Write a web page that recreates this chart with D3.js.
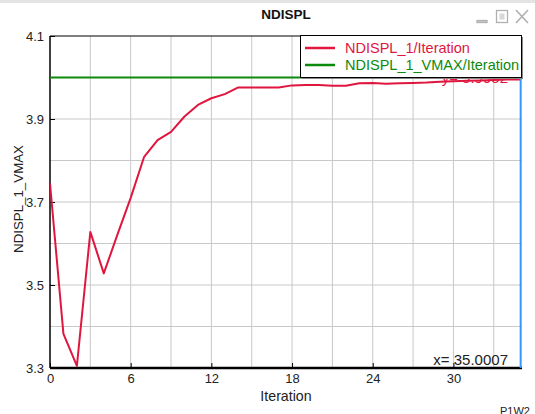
<!DOCTYPE html>
<html><head><meta charset="utf-8">
<script src="https://cdn.jsdelivr.net/npm/d3@7"></script>
<style>body{margin:0;background:#fff;}svg{display:block;font-family:"Liberation Sans",Arial,sans-serif;}</style>
</head><body>
<svg id="c" width="535" height="414"></svg>
<script>
const iterations = d3.range(0, 36);
const ndispl = [3.745, 3.382, 3.305, 3.628, 3.528, 3.62, 3.71, 3.809, 3.849, 3.869, 3.906, 3.934, 3.950, 3.960, 3.976, 3.976, 3.976, 3.976, 3.981, 3.982, 3.982, 3.980, 3.980, 3.986, 3.987, 3.985, 3.986, 3.987, 3.988, 3.990, 3.991, 3.992, 3.993, 3.994, 3.995, 3.995];
const vmax = 4.0;
const xTicks = [0, 6, 12, 18, 24, 30];
const yTicks = [3.3, 3.5, 3.7, 3.9, 4.1];
const xGrid = [3, 6, 9, 12, 15, 18, 21, 24, 27, 30, 33];
const yGrid = [3.4, 3.5, 3.6, 3.7, 3.8, 3.9, 4.0];
const cursorX = 35.0007;
const cursorY = 3.9952;
const seriesNames = ["NDISPL_1/Iteration", "NDISPL_1_VMAX/Iteration"];
const seriesColors = ["#e0163f", "#0c8a0c"];

const svg = d3.select("#c");
const L = 50, R = 522, T = 36, B = 368;
const x = d3.scaleLinear().domain([0, 35.1]).range([L, R]);
const y = d3.scaleLinear().domain([3.3, 4.1]).range([B, T]);

// top window border
svg.append("rect").attr("x", 0).attr("y", 0).attr("width", 535).attr("height", 3).attr("fill", "#e4e4e4");

// title
svg.append("text").attr("x", 286).attr("y", 19).attr("text-anchor", "middle")
  .attr("font-weight", "bold").attr("font-size", 13.5).attr("fill", "#111").text("NDISPL");

// window icons
const ic = svg.append("g").attr("stroke", "#b0b0b0").attr("fill", "none").attr("stroke-width", 1.3);
ic.append("rect").attr("x", 477).attr("y", 20.5).attr("width", 10).attr("height", 2).attr("fill", "#d0d0d0");
ic.append("rect").attr("x", 496.5).attr("y", 10.5).attr("width", 11).attr("height", 12);
ic.append("rect").attr("x", 499.5).attr("y", 13.5).attr("width", 5).attr("height", 6).attr("fill", "#d8d8d8").attr("stroke", "none");
ic.append("path").attr("d", "M516,10 L528,23 M528,10 L516,23").attr("stroke-width", 1.6);

// grid
const g = svg.append("g");
g.selectAll(".vg").data(xGrid).join("line")
  .attr("x1", d => x(d)).attr("x2", d => x(d)).attr("y1", T).attr("y2", B)
  .attr("stroke", "#c8c8c8").attr("stroke-width", 1);
g.selectAll(".hg").data(yGrid).join("line")
  .attr("x1", L).attr("x2", R).attr("y1", d => y(d)).attr("y2", d => y(d))
  .attr("stroke", "#c8c8c8").attr("stroke-width", 1);

// y axis label
svg.append("text").attr("transform", "translate(23,199) rotate(-90)").attr("text-anchor", "middle")
  .attr("font-size", 13.3).attr("fill", "#222").text("NDISPL_1_VMAX");

// axes
const yAxis = d3.axisRight(y).tickValues(yTicks).tickSize(5).tickFormat(d3.format(".1f"));
const ya = svg.append("g").attr("transform", `translate(${L},0)`).call(yAxis);
ya.select(".domain").remove();
ya.selectAll("line").attr("stroke", "#000");
ya.selectAll("text").attr("x", -6).attr("text-anchor", "end").attr("font-size", 13)
  .attr("font-family", "Liberation Sans, Arial, sans-serif").attr("fill", "#222");

const xAxis = d3.axisTop(x).tickValues(xTicks).tickSize(5).tickFormat(d3.format("d"));
const xa = svg.append("g").attr("transform", `translate(0,${B})`).call(xAxis);
xa.select(".domain").remove();
xa.selectAll("line").attr("stroke", "#000");
xa.selectAll("text").attr("y", 15).attr("dy", 0).attr("font-size", 13)
  .attr("font-family", "Liberation Sans, Arial, sans-serif").attr("fill", "#222");

svg.append("text").attr("x", 286).attr("y", 401).attr("text-anchor", "middle")
  .attr("font-size", 14.2).attr("fill", "#222").text("Iteration");

// frame
svg.append("line").attr("x1", L).attr("x2", R).attr("y1", T).attr("y2", T).attr("stroke", "#000").attr("stroke-width", 1.2);
svg.append("line").attr("x1", L).attr("x2", L).attr("y1", T).attr("y2", B).attr("stroke", "#000").attr("stroke-width", 1.5);
svg.append("line").attr("x1", L).attr("x2", R).attr("y1", B).attr("y2", B).attr("stroke", "#000").attr("stroke-width", 2.5);

// data lines
const clip = svg.append("clipPath").attr("id", "pc").append("rect").attr("x", L).attr("y", T - 1).attr("width", R - L).attr("height", B - T + 2);
const plot = svg.append("g").attr("clip-path", "url(#pc)");
plot.append("line").attr("x1", x(0)).attr("x2", R).attr("y1", y(vmax)).attr("y2", y(vmax))
  .attr("stroke", seriesColors[1]).attr("stroke-width", 2);
const line = d3.line().x((d, i) => x(iterations[i])).y(d => y(d));
plot.append("path").datum(ndispl).attr("d", line).attr("fill", "none")
  .attr("stroke", seriesColors[0]).attr("stroke-width", 2).attr("stroke-linejoin", "round");

// cursor
svg.append("line").attr("x1", x(cursorX)).attr("x2", x(cursorX)).attr("y1", T).attr("y2", B)
  .attr("stroke", "#3399ff").attr("stroke-width", 2);
svg.append("text").attr("x", 508).attr("y", 83).attr("text-anchor", "end").attr("font-size", 15)
  .attr("fill", seriesColors[0]).text("y= " + cursorY.toFixed(4));
svg.append("text").attr("x", 508).attr("y", 365).attr("text-anchor", "end").attr("font-size", 15)
  .attr("fill", "#222").text("x= " + cursorX.toFixed(4));

// legend
const lg = svg.append("g");
lg.append("rect").attr("x", 302).attr("y", 37).attr("width", 221).attr("height", 42).attr("fill", "#888");
lg.append("rect").attr("x", 300.5).attr("y", 35.5).attr("width", 221).attr("height", 42)
  .attr("fill", "#fff").attr("stroke", "#000").attr("stroke-width", 1);
seriesNames.forEach((n, i) => {
  const yy = 48 + i * 17;
  lg.append("line").attr("x1", 305).attr("x2", 335).attr("y1", yy).attr("y2", yy)
    .attr("stroke", seriesColors[i]).attr("stroke-width", 2.5);
  lg.append("text").attr("x", 345).attr("y", yy + 5).attr("font-size", 14.5)
    .attr("fill", seriesColors[i]).text(n);
});

svg.append("text").attr("x", 500).attr("y", 415).attr("font-size", 11).attr("fill", "#222").text("P1W2");
</script>
</body></html>
